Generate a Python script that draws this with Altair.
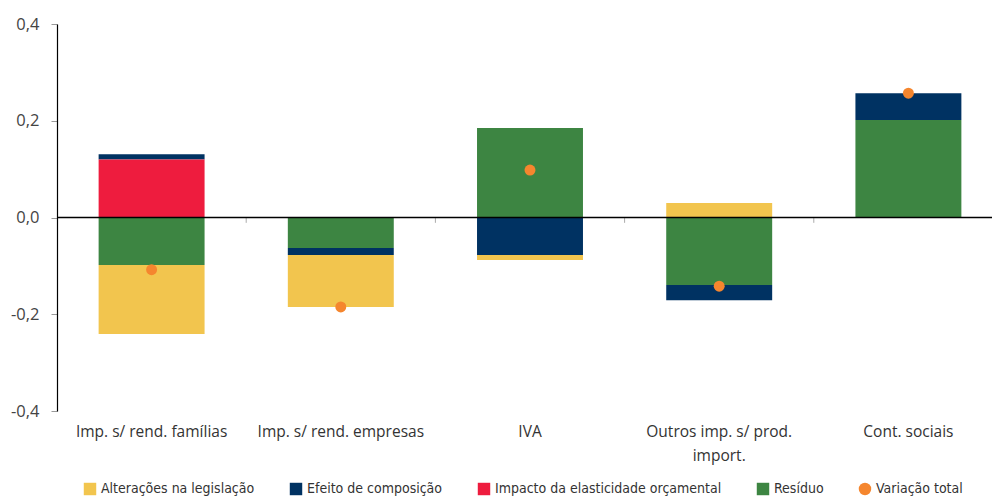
import altair as alt
import pandas as pd

categorias = ["Imp. s/ rend. famílias", "Imp. s/ rend. empresas", "IVA",
              "Outros imp. s/ prod. import.", "Cont. sociais"]
series = ["Alterações na legislação", "Efeito de composição",
          "Impacto da elasticidade orçamental", "Resíduo"]
alteracoes = [-0.143, -0.1075, -0.0105, 0.030, 0.0]
efeito = [0.011, -0.0145, -0.0775, -0.0315, 0.0555]
impacto = [0.120, 0.0, 0.0, 0.0, 0.0]
residuo = [-0.098, -0.063, 0.185, -0.1395, 0.2015]
total = [-0.108, -0.185, 0.098, -0.142, 0.257]
total_nome = "Variação total"

cores = ["#F2C54E", "#003262", "#EE1C3E", "#3D8542", "#F5862E"]
formas = ["square", "square", "square", "square", "circle"]
ordem_pilha = {"Resíduo": 0, "Impacto da elasticidade orçamental": 1,
               "Efeito de composição": 2, "Alterações na legislação": 3}

rows = []
for s, vals in zip(series, [alteracoes, efeito, impacto, residuo]):
    for c, v in zip(categorias, vals):
        if v != 0:
            rows.append({"cat": c, "serie": s, "valor": v, "ordem": ordem_pilha[s]})
bars_df = pd.DataFrame(rows)
tot_df = pd.DataFrame({"cat": categorias, "valor": total, "serie": total_nome})
tick_df = pd.DataFrame({"cat": categorias[1:]})

font = "Open Sans"
legend_font = "DejaVu Sans Condensed"

x_scale = alt.Scale(domain=categorias, range=[0, 946], paddingInner=0.44, paddingOuter=0.22)
y_scale = alt.Scale(domain=[-0.4, 0.4], nice=False)
color_scale = alt.Scale(domain=series + [total_nome], range=cores)
shape_scale = alt.Scale(domain=series + [total_nome], range=formas)

x_axis = alt.Axis(title=None, domain=False, ticks=False, labelAngle=0, labelFont=font,
                  labelFontSize=15.5, labelColor="#333333", labelPadding=13,
                  labelLimit=400, labelLineHeight=24,
                  labelExpr="datum.label == 'Outros imp. s/ prod. import.' ? ['Outros imp. s/ prod.', 'import.'] : datum.label")
y_axis = alt.Axis(title=None, values=[-0.4, -0.2, 0, 0.2, 0.4], grid=False,
                  domainColor="#000000", domainWidth=1.2, tickColor="#999999", tickSize=6,
                  labelFont=font, labelFontSize=16.5, labelColor="#444444", labelPadding=12,
                  labelExpr="(datum.value < 0 ? '-' : '') + replace(format(abs(datum.value), '.1f'), '.', ',')")

legend = alt.Legend(title=None, orient="none", direction="horizontal", columns=5,
                    legendX=26, legendY=458, symbolSize=155, symbolStrokeWidth=0,
                    labelFont=legend_font, labelFontSize=14, labelColor="#333333",
                    labelLimit=400,
                    columnPadding=34, symbolOffset=0, labelOffset=4, symbolOpacity=1)

bars = alt.Chart(bars_df).mark_bar().encode(
    x=alt.X("cat:N", scale=x_scale, axis=x_axis, sort=categorias),
    y=alt.Y("valor:Q", scale=y_scale, axis=y_axis, stack="zero"),
    color=alt.Color("serie:N", scale=color_scale, legend=legend),
    order=alt.Order("ordem:Q"),
)

zero = alt.Chart(pd.DataFrame({"v": [0]})).mark_rule(color="#000000", strokeWidth=1.5).encode(
    y=alt.Y("v:Q"), x=alt.value(0), x2=alt.value(935)
)

ticks = alt.Chart(tick_df).mark_rule(color="#aaaaaa", xOffset=-94.6).encode(
    x=alt.X("cat:N", sort=categorias), y=alt.datum(0), y2=alt.datum(-0.011)
)

pts = alt.Chart(tot_df).mark_point(size=120, opacity=1, filled=True).encode(
    x=alt.X("cat:N", sort=categorias),
    y=alt.Y("valor:Q"),
    color=alt.Color("serie:N", scale=color_scale, legend=legend),
    shape=alt.Shape("serie:N", scale=shape_scale, legend=legend),
)

chart = alt.layer(bars, ticks, zero, pts).properties(
    width=935, height=387,
    autosize=alt.AutoSizeParams(type="none"),
    padding={"left": 57, "top": 24, "right": 0, "bottom": 90},
).configure_view(stroke=None)

chart.save("out.html", embed_options={"renderer": "svg", "actions": False})
